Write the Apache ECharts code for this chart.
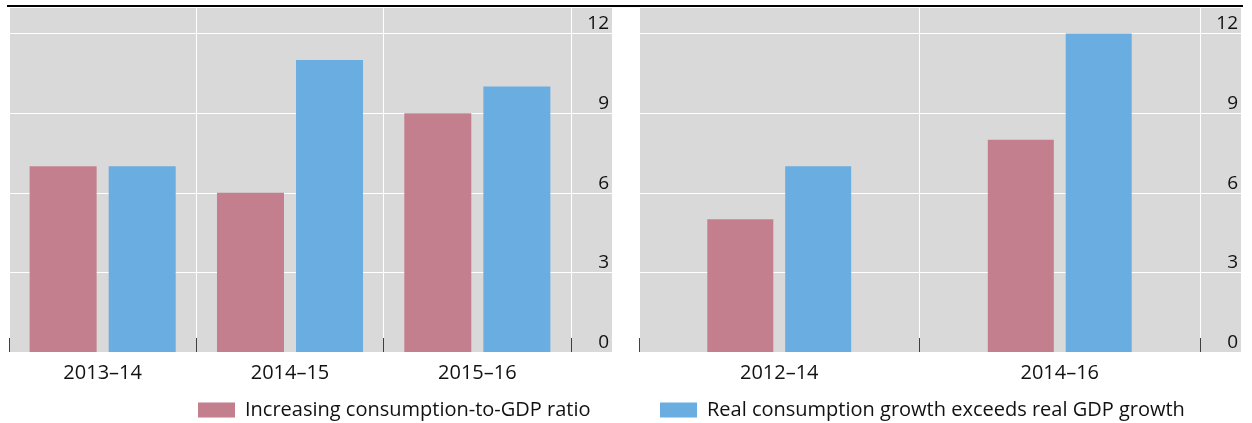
<!DOCTYPE html>
<html>
<head>
<meta charset="utf-8">
<script src="https://cdn.jsdelivr.net/npm/echarts@6/dist/echarts.min.js"></script>
<style>
html,body{margin:0;padding:0;background:#fff;}
#chart{width:1252px;height:423px;}
</style>
</head>
<body>
<div id="chart"></div>
<script>
const seriesNames = ['Increasing consumption-to-GDP ratio', 'Real consumption growth exceeds real GDP growth'];
const leftCategories = ['2013–14', '2014–15', '2015–16'];
const leftConsRatio = [7, 6, 9];
const leftRealGrowth = [7, 11, 10];
const rightCategories = ['2012–14', '2014–16'];
const rightConsRatio = [5, 8];
const rightRealGrowth = [7, 12];
const yMin = 0, yMax = 13, yInterval = 3;

const PINK = '#c47f8f', BLUE = '#6aade1', GRAY = '#d9d9d9';
const FONT = 'Open Sans';

function gridCfg(left, width) {
  return { left: left, top: 7, width: width, height: 345, show: true, backgroundColor: GRAY, borderWidth: 0, containLabel: false };
}
function yMain(gi) {
  return {
    type: 'value', gridIndex: gi, min: yMin, max: yMax, interval: yInterval,
    axisLine: { show: false }, axisTick: { show: false }, axisLabel: { show: false },
    splitLine: { show: true, lineStyle: { color: '#ffffff', width: 1 } }
  };
}
function yLabels(gi) {
  return {
    type: 'value', gridIndex: gi, min: yMin, max: yMax, interval: yInterval, position: 'right',
    axisLine: { show: false }, axisTick: { show: false },
    axisLabel: { show: true, inside: true, margin: 3, verticalAlign: 'bottom', color: '#111', fontSize: 19, fontFamily: FONT,
      formatter: function (v) { return v % yInterval === 0 ? String(v) : ''; } },
    splitLine: { show: true, lineStyle: { color: '#ffffff', width: 1 } }
  };
}
function xCat(gi, data) {
  return {
    type: 'category', gridIndex: gi, data: data, boundaryGap: true,
    axisLine: { show: false },
    axisTick: { show: true, inside: true, length: 14, interval: 0, lineStyle: { color: '#404040', width: 1 } },
    axisLabel: { show: true, interval: 0, margin: 11, color: '#111', fontSize: 20, fontFamily: FONT },
    splitLine: { show: true, interval: 0, lineStyle: { color: '#ffffff', width: 1 } }
  };
}
function xHidden(gi) {
  return { type: 'value', gridIndex: gi, min: 0, max: 1, show: false, splitLine: { show: false } };
}
function legendCfg(left, name) {
  return { left: left, top: 400, padding: 0, icon: 'rect', itemWidth: 37, itemHeight: 15, data: [name],
    textStyle: { fontSize: 20, color: '#111', fontFamily: FONT, padding: [0, 0, 0, 5] }, selectedMode: false };
}

const option = {
  animation: false,
  textStyle: { fontFamily: FONT },
  grid: [gridCfg(9, 562), gridCfg(571, 41), gridCfg(639, 561), gridCfg(1200, 41)],
  xAxis: [xCat(0, leftCategories), xHidden(1), xCat(2, rightCategories), xHidden(3)],
  yAxis: [yMain(0), yLabels(1), yMain(2), yLabels(3)],
  legend: [legendCfg(198, seriesNames[0]), legendCfg(660, seriesNames[1])],
  series: [
    { name: seriesNames[0], type: 'bar', xAxisIndex: 0, yAxisIndex: 0, data: leftConsRatio, barWidth: 67, barGap: '18%', itemStyle: { color: PINK } },
    { name: seriesNames[1], type: 'bar', xAxisIndex: 0, yAxisIndex: 0, data: leftRealGrowth, barWidth: 67, barGap: '18%', itemStyle: { color: BLUE } },
    { name: seriesNames[0], type: 'bar', xAxisIndex: 2, yAxisIndex: 2, data: rightConsRatio, barWidth: 66, barGap: '18%', itemStyle: { color: PINK } },
    { name: seriesNames[1], type: 'bar', xAxisIndex: 2, yAxisIndex: 2, data: rightRealGrowth, barWidth: 66, barGap: '18%', itemStyle: { color: BLUE } }
  ],
  graphic: [
    { type: 'line', z: 100, shape: { x1: 7, y1: 6, x2: 1243, y2: 6 }, style: { stroke: '#000', lineWidth: 2 } }
  ]
};

const chart = echarts.init(document.getElementById('chart'), null, { renderer: 'canvas' });
chart.setOption(option);
</script>
</body>
</html>
